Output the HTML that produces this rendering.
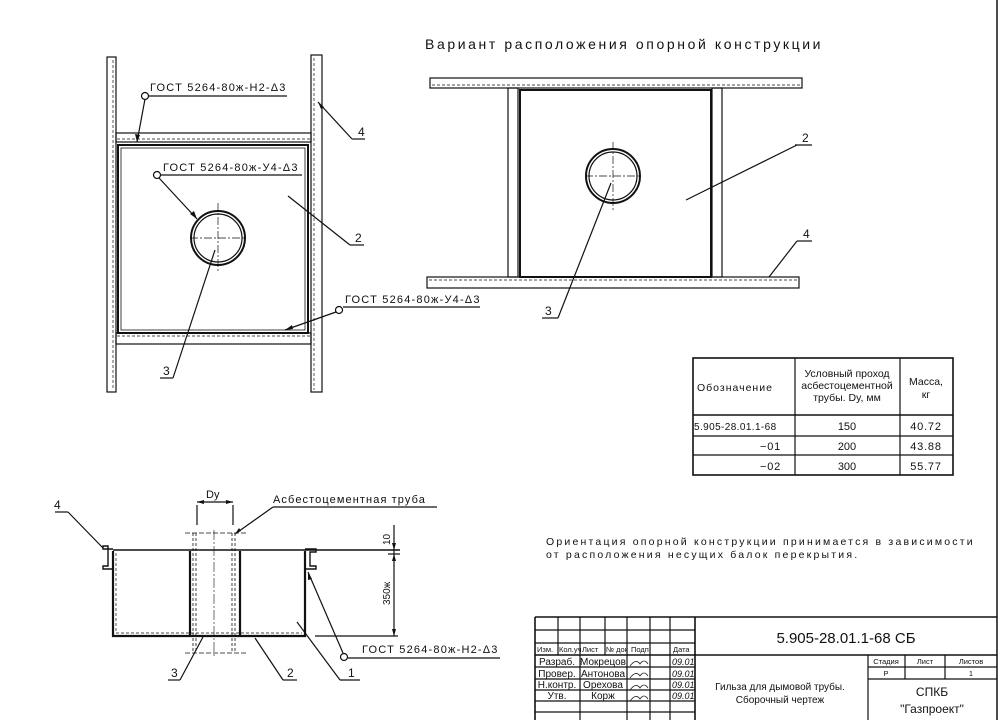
<!DOCTYPE html>
<html><head><meta charset="utf-8"><style>
body{margin:0;background:#fff}
svg{display:block}
text{font-family:"Liberation Sans",sans-serif;fill:#111}
.g{font-size:11px;letter-spacing:1.2px}
.n{font-size:12px}
</style></head><body>
<svg width="999" height="720" viewBox="0 0 999 720" xmlns="http://www.w3.org/2000/svg">
<g stroke="#111" fill="none" stroke-width="1.2">
<line x1="997" y1="0" x2="997" y2="720" stroke-width="1.5"/>
<!-- TOP LEFT -->
<rect x="107" y="57" width="9" height="335"/>
<line x1="113" y1="60" x2="113" y2="390" stroke-dasharray="3,2" stroke-width="0.7"/>
<rect x="311" y="55" width="11" height="337"/>
<line x1="314" y1="58" x2="314" y2="390" stroke-dasharray="3,2" stroke-width="0.7"/>
<rect x="116" y="133" width="195" height="9"/>
<line x1="117" y1="139" x2="310" y2="139" stroke-dasharray="3,2" stroke-width="0.7"/>
<rect x="116" y="333" width="195" height="11"/>
<line x1="117" y1="336" x2="310" y2="336" stroke-dasharray="3,2" stroke-width="0.7"/>
<rect x="118" y="145" width="190" height="188" stroke-width="2"/>
<rect x="121" y="148" width="184" height="182" stroke-width="0.8"/>
<circle cx="218" cy="238" r="27" stroke-width="2"/>
<circle cx="218" cy="238" r="24"/>
<line x1="218" y1="203" x2="218" y2="273" stroke-dasharray="8,2,2,2" stroke-width="0.7"/>
<line x1="190" y1="238" x2="246" y2="238" stroke-dasharray="8,2,2,2" stroke-width="0.7"/>
<circle cx="145" cy="96" r="3.5"/><line x1="149" y1="96" x2="287" y2="96"/><line x1="145" y1="99" x2="137" y2="142"/>
<circle cx="157" cy="175" r="3.5"/><line x1="161" y1="175" x2="302" y2="175"/><line x1="159" y1="178" x2="197" y2="219"/>
<line x1="318" y1="102" x2="352" y2="139"/><line x1="352" y1="139" x2="365" y2="139"/>
<line x1="288" y1="196" x2="350" y2="245"/><line x1="350" y1="245" x2="364" y2="245"/>
<line x1="215" y1="250" x2="173" y2="378"/><line x1="160" y1="378" x2="173" y2="378"/>
<circle cx="339" cy="310" r="3.5"/><line x1="343" y1="307" x2="480" y2="307"/><line x1="336" y1="312" x2="285" y2="330"/>
<!-- TOP RIGHT -->
<rect x="430" y="78" width="372" height="10"/>
<line x1="432" y1="85" x2="800" y2="85" stroke-dasharray="3,2" stroke-width="0.7"/>
<rect x="427" y="277" width="372" height="11"/>
<line x1="429" y1="280" x2="797" y2="280" stroke-dasharray="3,2" stroke-width="0.7"/>
<rect x="508" y="88" width="10" height="189"/>
<rect x="712" y="88" width="10" height="189"/>
<rect x="520" y="90" width="191" height="187" stroke-width="2"/>
<circle cx="613" cy="176" r="27" stroke-width="2"/>
<circle cx="613" cy="176" r="24"/>
<line x1="613" y1="142" x2="613" y2="212" stroke-dasharray="8,2,2,2" stroke-width="0.7"/>
<line x1="585" y1="176" x2="641" y2="176" stroke-dasharray="8,2,2,2" stroke-width="0.7"/>
<line x1="686" y1="200" x2="797" y2="145"/><line x1="795" y1="145" x2="812" y2="145"/>
<line x1="769" y1="277" x2="797" y2="241"/><line x1="797" y1="241" x2="812" y2="241"/>
<line x1="611" y1="183" x2="558" y2="318"/><line x1="542" y1="318" x2="558" y2="318"/>
<!-- TABLE -->
<rect x="693" y="358" width="260" height="117" stroke-width="1.6"/>
<line x1="795" y1="358" x2="795" y2="475"/><line x1="900" y1="358" x2="900" y2="475"/>
<line x1="693" y1="415" x2="953" y2="415" stroke-width="1.5"/>
<line x1="693" y1="436" x2="953" y2="436"/><line x1="693" y1="455" x2="953" y2="455"/>
<!-- BOTTOM LEFT -->
<line x1="197" y1="505" x2="197" y2="525"/><line x1="233" y1="505" x2="233" y2="525"/>
<line x1="197" y1="502" x2="233" y2="502"/>
<line x1="273" y1="507" x2="437" y2="507"/><line x1="273" y1="507" x2="235" y2="534"/>
<line x1="113" y1="550" x2="400" y2="550" stroke-width="1.6"/>
<path d="M113 551 L113 636 L305 636 L305 551" stroke-width="2.2"/>
<line x1="116" y1="553" x2="116" y2="633" stroke-dasharray="3,2" stroke-width="0.7"/>
<line x1="116" y1="633" x2="302" y2="633" stroke-dasharray="3,2" stroke-width="0.7"/>
<line x1="190" y1="551" x2="190" y2="636" stroke-width="2.2"/>
<line x1="240" y1="551" x2="240" y2="636" stroke-width="2.2"/>
<line x1="193" y1="533" x2="193" y2="653" stroke-dasharray="3,2" stroke-width="0.8"/>
<line x1="196" y1="533" x2="196" y2="653" stroke-dasharray="3,2" stroke-width="0.8"/>
<line x1="232" y1="533" x2="232" y2="653" stroke-dasharray="3,2" stroke-width="0.8"/>
<line x1="235" y1="533" x2="235" y2="653" stroke-dasharray="3,2" stroke-width="0.8"/>
<line x1="185" y1="533" x2="247" y2="533" stroke-dasharray="5,2" stroke-width="0.8"/>
<line x1="185" y1="653" x2="247" y2="653" stroke-dasharray="5,2" stroke-width="0.8"/>
<line x1="214" y1="530" x2="214" y2="658" stroke-dasharray="10,2,2,2" stroke-width="0.6"/>
<path d="M113 549 L103 549 L103 546 L108 546 L108 566 L103 566 L103 569 L113 569" stroke-width="1.4"/>
<path d="M305 549 L316 549 L316 552 L310 552 L310 566 L316 566 L316 569 L305 569" stroke-width="1.4"/>
<line x1="394" y1="525" x2="394" y2="636"/>
<line x1="388" y1="554" x2="400" y2="554"/>
<line x1="315" y1="636" x2="398" y2="636"/>
<line x1="55" y1="512" x2="68" y2="512"/><line x1="68" y1="512" x2="103" y2="548"/>
<line x1="203" y1="637" x2="180" y2="680"/><line x1="168" y1="680" x2="180" y2="680"/>
<line x1="255" y1="638" x2="283" y2="680"/><line x1="283" y1="680" x2="297" y2="680"/>
<line x1="297" y1="622" x2="340" y2="680"/><line x1="340" y1="680" x2="360" y2="680"/>
<circle cx="344" cy="657" r="3.5"/><line x1="348" y1="658" x2="500" y2="658"/><line x1="343" y1="653" x2="308" y2="572"/>
<!-- TITLE BLOCK -->
<line x1="535" y1="617" x2="997" y2="617" stroke-width="1.6"/>
<line x1="535" y1="617" x2="535" y2="720" stroke-width="1.6"/>
<line x1="695" y1="617" x2="695" y2="720" stroke-width="1.6"/>
<line x1="558" y1="617" x2="558" y2="655"/><line x1="580" y1="617" x2="580" y2="720"/>
<line x1="605" y1="617" x2="605" y2="655"/><line x1="627" y1="617" x2="627" y2="720"/>
<line x1="650" y1="617" x2="650" y2="720"/><line x1="670" y1="617" x2="670" y2="720"/>
<line x1="535" y1="630" x2="695" y2="630"/><line x1="535" y1="643" x2="695" y2="643"/>
<line x1="535" y1="655" x2="997" y2="655" stroke-width="1.6"/>
<line x1="535" y1="667" x2="695" y2="667"/><line x1="535" y1="679" x2="695" y2="679"/>
<line x1="535" y1="690" x2="695" y2="690"/><line x1="535" y1="701" x2="695" y2="701"/>
<line x1="535" y1="712" x2="695" y2="712"/>
<line x1="868" y1="655" x2="868" y2="720"/>
<line x1="868" y1="667" x2="997" y2="667"/><line x1="868" y1="679" x2="997" y2="679"/>
<line x1="905" y1="655" x2="905" y2="679"/><line x1="945" y1="655" x2="945" y2="679"/>
</g>
<g stroke="#222" fill="none" stroke-width="0.8">
<path d="M630 666 q6-8 10-2 q4-6 8 0"/><path d="M630 678 q6-8 10-2 q4-6 8 0"/>
<path d="M630 690 q6-8 10-2 q4-6 8 0"/><path d="M630 701 q6-8 10-2 q4-6 8 0"/>
</g>
<g fill="#111">
<polygon points="137,142 135,134 140,135"/>
<polygon points="197,219 190,214 194,211"/>
<polygon points="318,102 324,107 321,109"/>
<polygon points="285,330 292,325 293,329"/>
<polygon points="197,502 204,500 204,504"/><polygon points="233,502 226,500 226,504"/>
<polygon points="235,534 239,528 241,531"/>
<polygon points="394,550 392,543 396,543"/><polygon points="394,554 392,561 396,561"/>
<polygon points="394,636 392,629 396,629"/>
<polygon points="308,572 308,580 312,579"/>
</g>
<text class="g" x="150" y="91">ГОСТ 5264-80ж-Н2-Δ3</text>
<text class="g" x="163" y="171">ГОСТ 5264-80ж-У4-Δ3</text>
<text class="g" x="345" y="303">ГОСТ 5264-80ж-У4-Δ3</text>
<text class="g" x="362" y="653">ГОСТ 5264-80ж-Н2-Δ3</text>
<text class="n" x="358" y="136">4</text><text class="n" x="355" y="242">2</text><text class="n" x="163" y="375">3</text>
<text class="n" x="802" y="142">2</text><text class="n" x="803" y="238">4</text><text class="n" x="545" y="315">3</text>
<text class="n" x="54" y="509">4</text><text class="n" x="171" y="677">3</text><text class="n" x="287" y="677">2</text><text class="n" x="348" y="677">1</text>
<text x="425" y="49" style="font-size:14px;letter-spacing:2.6px">Вариант расположения опорной конструкции</text>
<text x="206" y="498" style="font-size:11px">Dy</text>
<text x="273" y="503" style="font-size:11px;letter-spacing:1.1px">Асбестоцементная труба</text>
<text x="390" y="545" style="font-size:10px" transform="rotate(-90 390 545)">10</text>
<text x="390" y="605" style="font-size:10px" transform="rotate(-90 390 605)">350ж</text>
<text x="697" y="391" style="font-size:10.5px;letter-spacing:1px">Обозначение</text>
<text x="847" y="377" style="font-size:10.5px" text-anchor="middle">Условный проход</text>
<text x="847" y="389" style="font-size:10.5px" text-anchor="middle">асбестоцементной</text>
<text x="847" y="401" style="font-size:10.5px" text-anchor="middle">трубы. Dy, мм</text>
<text x="926" y="385" style="font-size:10.5px" text-anchor="middle">Масса,</text>
<text x="926" y="398" style="font-size:10.5px" text-anchor="middle">кг</text>
<text x="694" y="430" style="font-size:10px;letter-spacing:0.4px">5.905-28.01.1-68</text>
<text x="847" y="430" style="font-size:11px" text-anchor="middle">150</text>
<text x="926" y="430" style="font-size:11px;letter-spacing:0.8px" text-anchor="middle">40.72</text>
<text x="760" y="450" style="font-size:11px;letter-spacing:0.8px">−01</text>
<text x="847" y="450" style="font-size:11px" text-anchor="middle">200</text>
<text x="926" y="450" style="font-size:11px;letter-spacing:0.8px" text-anchor="middle">43.88</text>
<text x="760" y="470" style="font-size:11px;letter-spacing:0.8px">−02</text>
<text x="847" y="470" style="font-size:11px" text-anchor="middle">300</text>
<text x="926" y="470" style="font-size:11px;letter-spacing:0.8px" text-anchor="middle">55.77</text>
<text x="546" y="545" style="font-size:10.5px;letter-spacing:2.2px">Ориентация опорной конструкции принимается в зависимости</text>
<text x="546" y="558" style="font-size:10.5px;letter-spacing:2.2px">от расположения несущих балок перекрытия.</text>
<text x="846" y="643" style="font-size:15px" text-anchor="middle">5.905-28.01.1-68 СБ</text>
<g style="font-size:7.5px">
<text x="537" y="652">Изм.</text><text x="559" y="652">Кол.уч</text><text x="582" y="652">Лист</text><text x="606" y="652">№ док</text><text x="631" y="652">Подп.</text><text x="673" y="652">Дата</text>
</g>
<g style="font-size:10px">
<text x="557" y="665" text-anchor="middle">Разраб.</text><text x="603" y="665" text-anchor="middle">Мокрецов</text>
<text x="557" y="677" text-anchor="middle">Провер.</text><text x="603" y="677" text-anchor="middle">Антонова</text>
<text x="557" y="688" text-anchor="middle">Н.контр.</text><text x="603" y="688" text-anchor="middle">Орехова</text>
<text x="557" y="699" text-anchor="middle">Утв.</text><text x="603" y="699" text-anchor="middle">Корж</text>
</g>
<g style="font-size:9px;font-style:italic">
<text x="672" y="665">09.01</text><text x="672" y="677">09.01</text><text x="672" y="688">09.01</text><text x="672" y="699">09.01</text>
</g>
<text x="780" y="690" style="font-size:10px" text-anchor="middle">Гильза для дымовой трубы.</text>
<text x="780" y="703" style="font-size:10px" text-anchor="middle">Сборочный чертеж</text>
<g style="font-size:7.5px">
<text x="886" y="664" text-anchor="middle">Стадия</text><text x="925" y="664" text-anchor="middle">Лист</text><text x="971" y="664" text-anchor="middle">Листов</text>
<text x="886" y="676" text-anchor="middle">Р</text><text x="971" y="676" text-anchor="middle">1</text>
</g>
<text x="932" y="696" style="font-size:12px" text-anchor="middle">СПКБ</text>
<text x="932" y="713" style="font-size:12px" text-anchor="middle">"Газпроект"</text>
</svg>
</body></html>
